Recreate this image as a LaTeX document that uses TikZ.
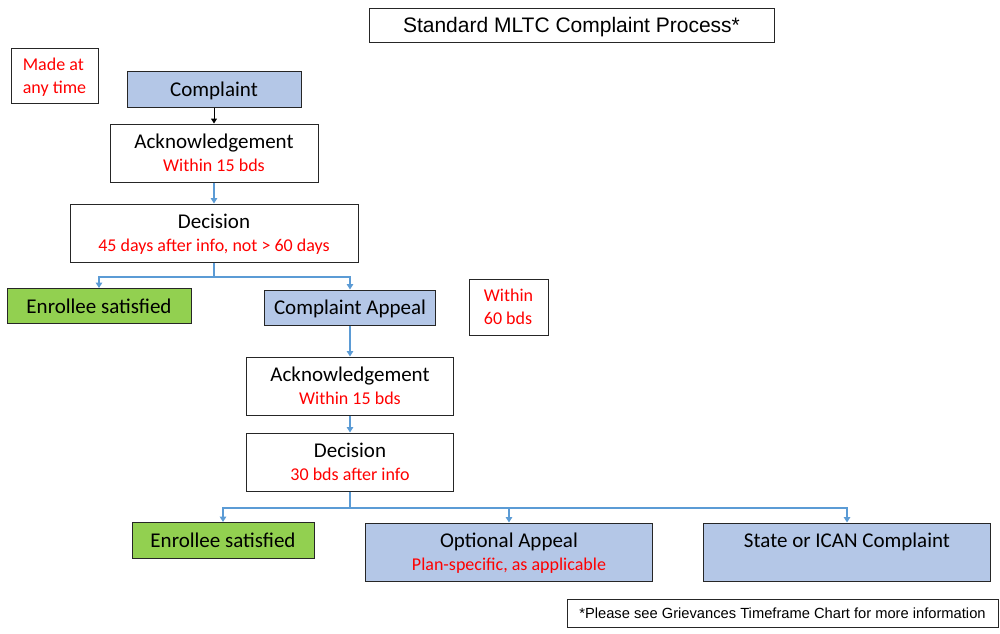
\documentclass[tikz,border=0pt]{standalone}
\usepackage{fontspec}
\setmainfont{Carlito}
\newfontfamily\arialfont{Liberation Sans}
\usepackage{xcolor}
\usetikzlibrary{arrows.meta,positioning}

\definecolor{boxblue}{HTML}{B4C7E7}
\definecolor{boxgreen}{HTML}{92D050}
\definecolor{linkblue}{HTML}{5B9BD5}

\newcommand{\timing}[1]{{\color{red}\fontsize{18}{22}\selectfont #1}}

\begin{document}
\begin{tikzpicture}[
    x=1pt, y=-1pt,
    every node/.style={font=\fontsize{21}{23}\selectfont},
    box/.style={draw=black!85, line width=1pt, rectangle, align=center, inner sep=0pt, text depth=0pt},
    bluebox/.style={box, fill=boxblue},
    greenbox/.style={box, fill=boxgreen},
    % red side notes
    note/.style={box, text=red, align=left, font=\fontsize{18}{23}\selectfont},
    conn/.style={draw=linkblue, line width=2pt, -{Triangle[length=5.5pt,width=6.5pt]}},
  ]
  \useasboundingbox (0,0) rectangle (1000,633);

  \node[box, minimum width=405, minimum height=34, font=\arialfont\fontsize{21}{24}\selectfont]
    (title) at (571.5,25) {Standard MLTC Complaint Process*};
  \node[note, minimum width=87, minimum height=55] (anytime) at (54.5,76) {Made at\\any time};

  % first level
  \node[bluebox, minimum width=174, minimum height=36] (complaint) at (214,89) {Complaint};
  \node[box, minimum width=208, minimum height=58] (ack1) at (214,153)
    {Acknowledgement\\[0pt]\timing{Within 15 bds}};
  \node[box, minimum width=288, minimum height=58] (dec1) at (214,233)
    {Decision\\[0pt]\timing{45 days after info, not > 60 days}};
  \node[greenbox, minimum width=184, minimum height=35] (sat1) at (99,306) {Enrollee satisfied};
  \node[bluebox, minimum width=171, minimum height=35] (appeal) at (350,307.5) {Complaint Appeal};
  \node[note, minimum width=79, minimum height=56] (within) at (508.5,307) {Within\\60 bds};

  % appeal level
  \node[box, minimum width=207, minimum height=58] (ack2) at (350,386)
    {Acknowledgement\\[0pt]\timing{Within 15 bds}};
  \node[box, minimum width=207, minimum height=58] (dec2) at (350,462)
    {Decision\\[0pt]\timing{30 bds after info}};
  \node[greenbox, minimum width=182, minimum height=36] (sat2) at (223,540.5) {Enrollee satisfied};
  \node[bluebox, minimum width=287, minimum height=58] (optapp) at (509,552)
    {Optional Appeal\\[0pt]\timing{Plan-specific, as applicable}};
  \node[bluebox, minimum width=287, minimum height=58] (ican) at (847,552)
    {State or ICAN Complaint\\[0pt]\timing{\phantom{Xy}}};

  \node[box, minimum width=431, minimum height=28, font=\arialfont\fontsize{14.7}{16}\selectfont]
    (footnote) at (782.5,613.5) {*Please see Grievances Timeframe Chart for more information};

  \draw[line width=1pt, -{Triangle[length=5pt,width=6pt]}] (complaint) -- (ack1);
  \draw[conn] (ack1) -- (dec1);
  \draw[draw=linkblue, line width=2pt] (dec1.south) -- ++(0,14) coordinate (fork1);
  \draw[conn] (fork1) -| (sat1.north);
  \draw[conn] (fork1) -| (appeal.north);
  \draw[conn] (appeal) -- (ack2);
  \draw[conn] (ack2) -- (dec2);
  \draw[draw=linkblue, line width=2pt] (dec2.south) -- ++(0,16) coordinate (fork2);
  \draw[conn] (fork2) -| (sat2.north);
  \draw[conn] (fork2) -| (optapp.north);
  \draw[conn] (fork2) -| (ican.north);
\end{tikzpicture}
\end{document}
